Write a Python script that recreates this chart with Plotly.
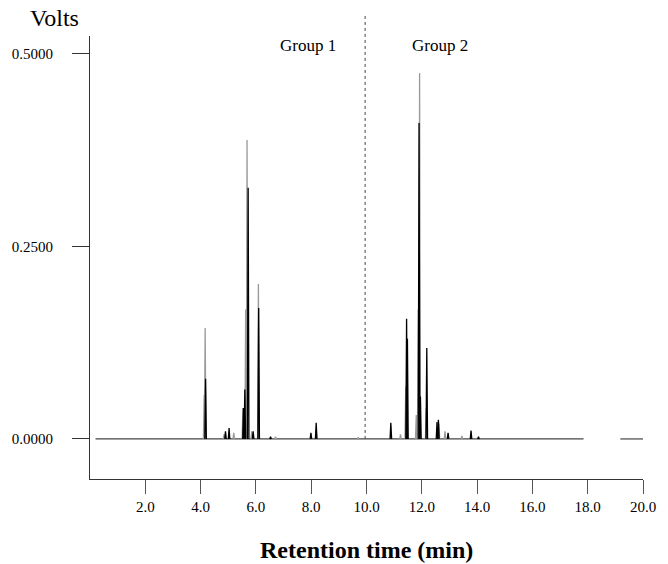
import plotly.graph_objects as go

# ---- data ----
# retention times (min) and heights (V) of the grey trace peaks
grey_rt = [4.13, 4.165, 4.85, 5.20, 5.53, 5.63, 5.68, 5.85, 6.09, 6.71, 8.18, 9.70,
           11.23, 11.42, 11.80, 11.87, 11.92, 12.16, 12.62, 12.84, 13.45]
grey_h = [0.057, 0.144, 0.006, 0.008, 0.040, 0.168, 0.388, 0.010, 0.201, 0.003, 0.012, 0.002,
          0.006, 0.068, 0.031, 0.168, 0.475, 0.040, 0.020, 0.010, 0.004]

# retention times (min) and heights (V) of the black trace peaks
black_rt = [4.18, 4.90, 5.03, 5.55, 5.60, 5.72, 5.90, 6.10, 6.53, 7.99, 8.18,
            10.88, 11.45, 11.48, 11.90, 11.95, 12.18, 12.55, 12.60, 12.95, 13.78, 14.05]
black_h = [0.078, 0.010, 0.014, 0.040, 0.064, 0.326, 0.010, 0.170, 0.003, 0.008, 0.021,
           0.021, 0.156, 0.130, 0.410, 0.055, 0.118, 0.022, 0.025, 0.008, 0.011, 0.003]

# baseline segments of the recorder trace (min)
baseline_start = [0.2, 19.18]
baseline_end = [17.85, 20.0]

peak_halfwidth = 0.028
group_line_rt = 9.95
group_labels = ["Group 1", "Group 2"]
group_label_rt = [7.9, 12.66]
x_ticks = [2.0, 4.0, 6.0, 8.0, 10.0, 12.0, 14.0, 16.0, 18.0, 20.0]
y_ticks = [0.0, 0.25, 0.5]
y_tick_text = ["0.0000", "0.2500", "0.5000"]
x_range = [0, 20.0]
y_range = [-0.052, 0.523]


def peak_trace(rts, hs, hw):
    xs, ys = [], []
    for t, h in sorted(zip(rts, hs)):
        xs += [t - hw, t, t + hw, None]
        ys += [0, h, 0, None]
    return xs, ys


fig = go.Figure()

# baseline
bx, by = [], []
for s, e in zip(baseline_start, baseline_end):
    bx += [s, e, None]
    by += [0, 0, None]
fig.add_trace(go.Scatter(x=bx, y=by, mode="lines",
                         line=dict(color="#444444", width=1.2), hoverinfo="skip"))

gx, gy = peak_trace(grey_rt, grey_h, peak_halfwidth)
fig.add_trace(go.Scatter(x=gx, y=gy, mode="lines",
                         line=dict(color="#9a9a9a", width=1.3)))
kx, ky = peak_trace(black_rt, black_h, peak_halfwidth)
fig.add_trace(go.Scatter(x=kx, y=ky, mode="lines",
                         line=dict(color="#000000", width=1.3)))

serif = "Liberation Serif, Times New Roman, serif"

plot_top_px, plot_bottom_px = 36, 85
plot_h = 564 - plot_top_px - plot_bottom_px


def paper_y(v):
    return (v - y_range[0]) / (y_range[1] - y_range[0])


# dotted separator
fig.add_shape(type="line", xref="x", yref="paper",
              x0=group_line_rt, x1=group_line_rt,
              y0=paper_y(0), y1=1 + 21 / plot_h,
              line=dict(color="#444444", width=1, dash="dot"))

for lab, t in zip(group_labels, group_label_rt):
    fig.add_annotation(x=t, y=1 - 9 / plot_h, xref="x", yref="paper", text=lab,
                       showarrow=False, font=dict(family=serif, size=17, color="black"),
                       xanchor="center", yanchor="middle")

fig.add_annotation(x=-36 / 559, y=1 + 18 / plot_h, xref="paper", yref="paper", text="Volts",
                   showarrow=False, font=dict(family=serif, size=24, color="black"),
                   xanchor="center", yanchor="middle")

fig.add_annotation(x=0.5, y=-71 / plot_h, xref="paper", yref="paper",
                   text="<b>Retention time (min)</b>", showarrow=False,
                   font=dict(family=serif, size=24, color="black"),
                   xanchor="center", yanchor="middle")

fig.update_layout(
    width=668, height=564,
    margin=dict(l=90, r=19, t=plot_top_px, b=plot_bottom_px),
    paper_bgcolor="white", plot_bgcolor="white",
    showlegend=False,
    xaxis=dict(range=x_range, showgrid=False, zeroline=False, showline=True,
               linecolor="#333333", linewidth=1, ticks="outside", ticklen=14,
               tickcolor="#555555", tickvals=x_ticks,
               ticktext=[f"{v:.1f}" for v in x_ticks],
               tickfont=dict(family=serif, size=15, color="black")),
    yaxis=dict(range=y_range, showgrid=False, zeroline=False, showline=True,
               linecolor="#333333", linewidth=1, ticks="outside", ticklen=17,
               tickcolor="#333333", tickvals=y_ticks, ticktext=y_tick_text,
               ticklabelstandoff=16,
               tickfont=dict(family=serif, size=15, color="black")),
)

fig.write_html("out.html")
